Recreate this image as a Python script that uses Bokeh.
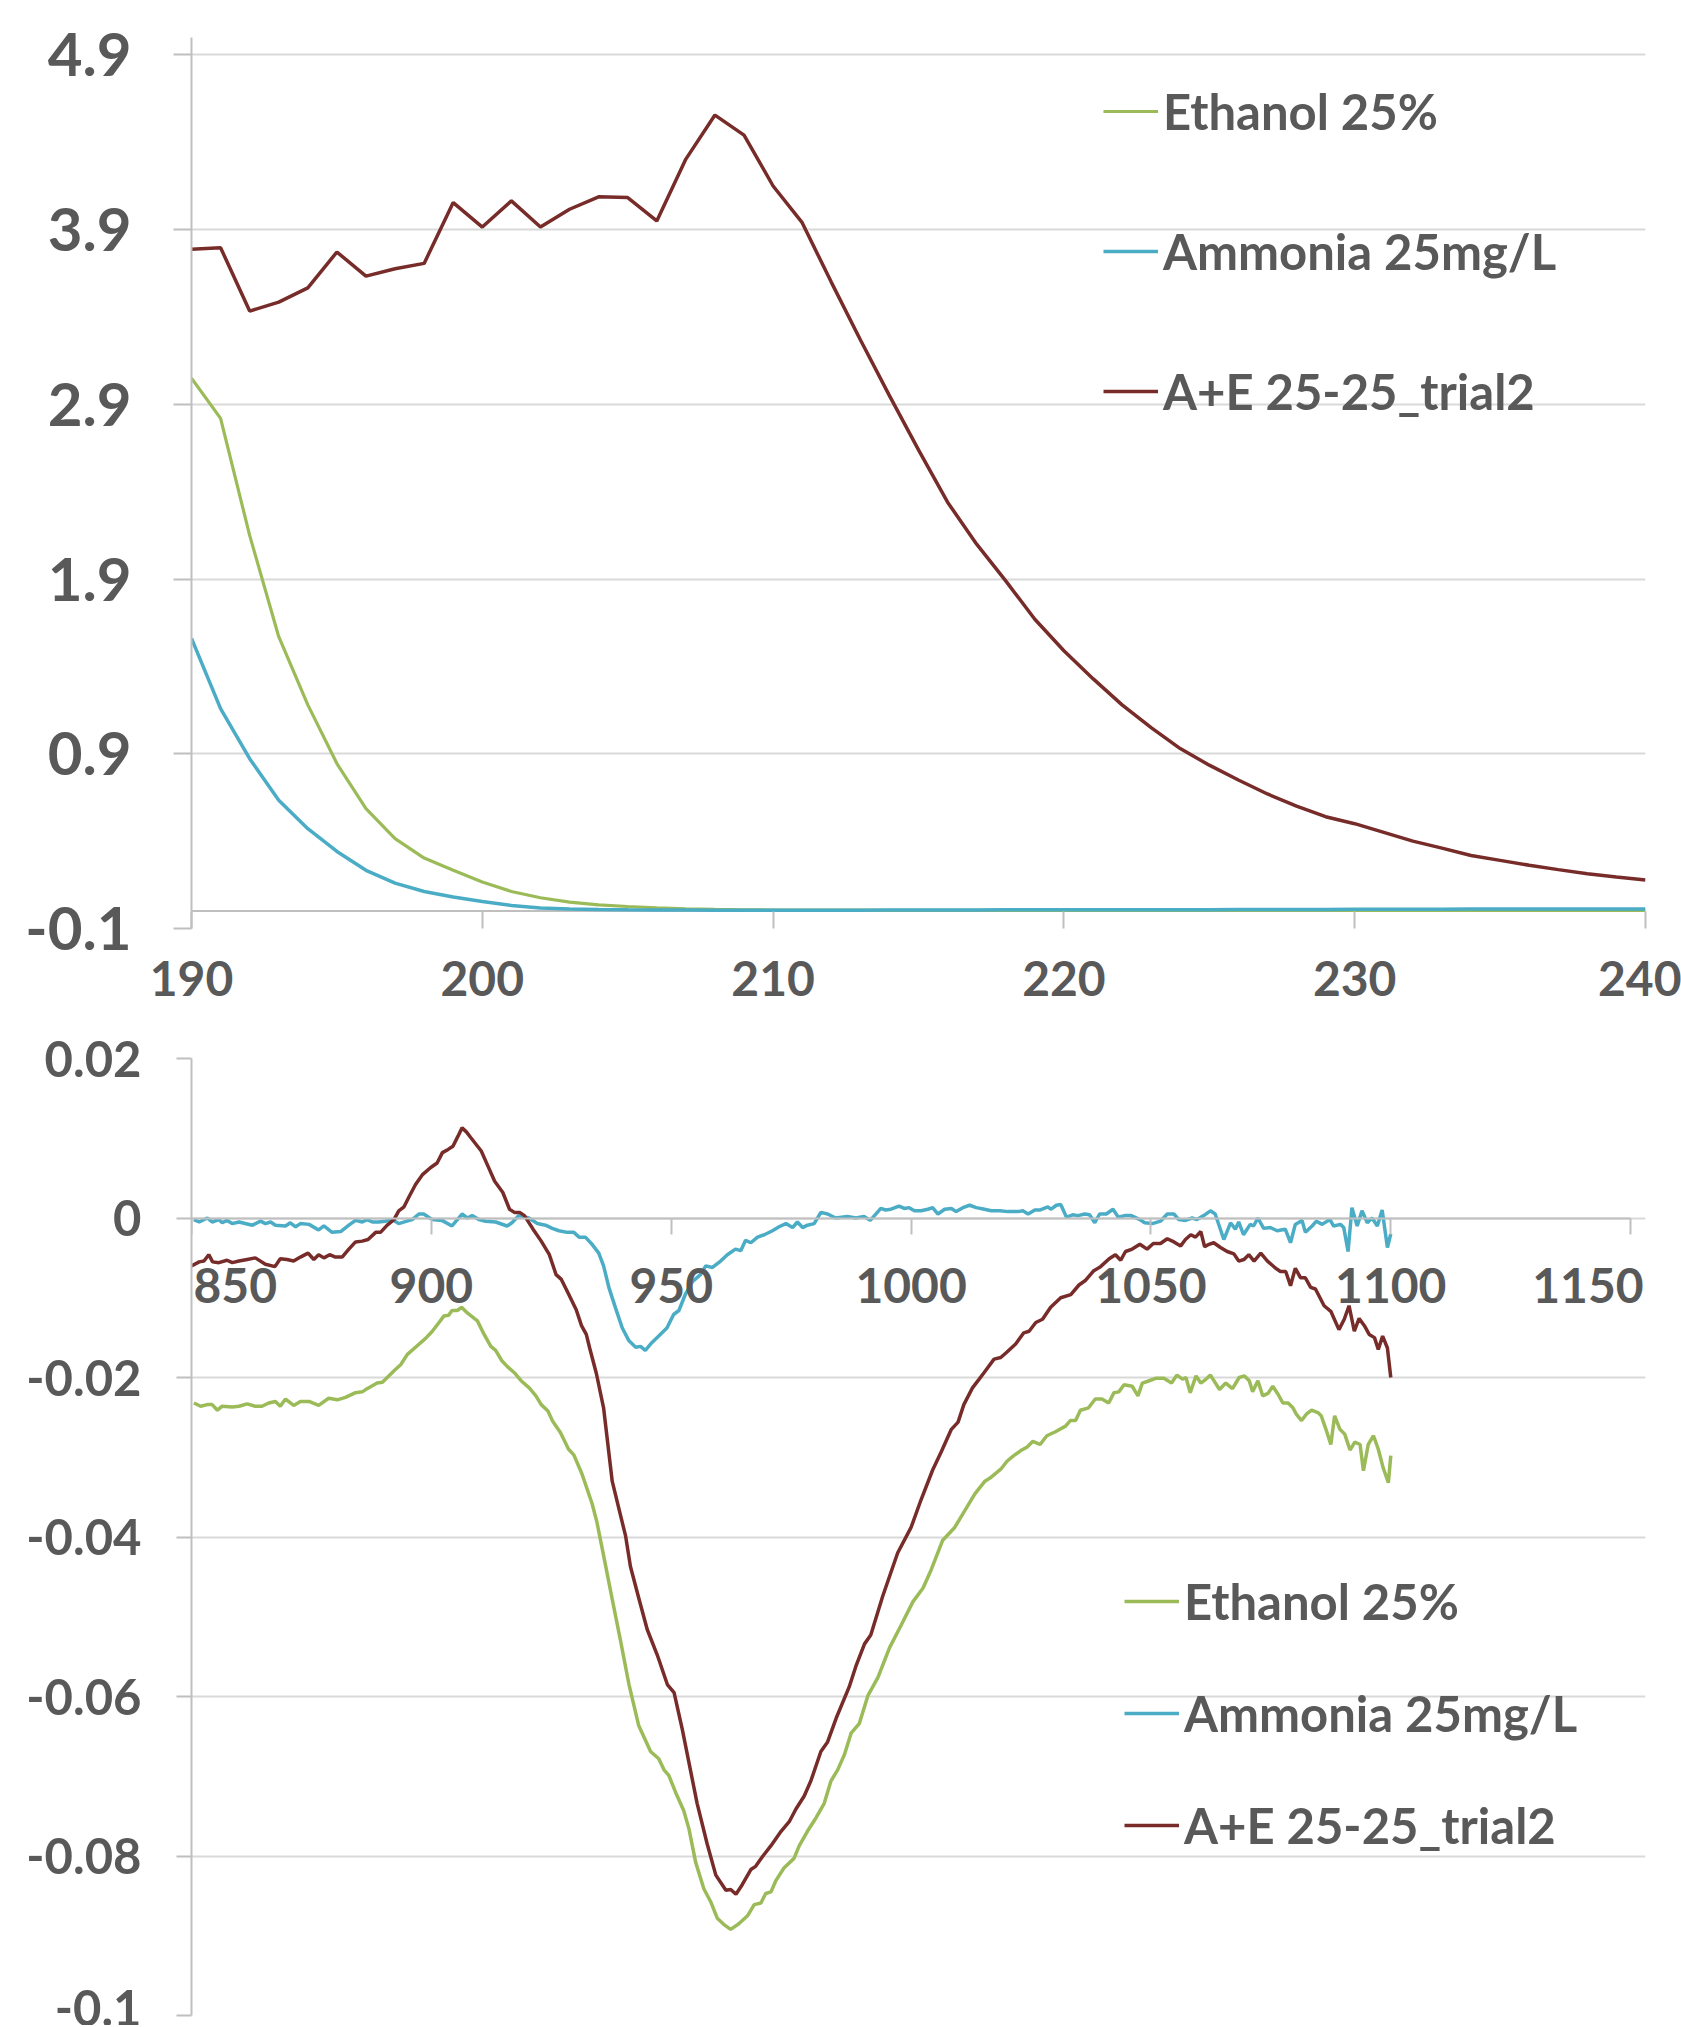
from bokeh.plotting import figure
from bokeh.layouts import column
from bokeh.models import Span, FixedTicker, Legend, LegendItem, Label
from bokeh.embed import file_html
from bokeh.resources import INLINE

# ---------------- names / colours ----------------
series_names = ["Ethanol 25%", "Ammonia 25mg/L", "A+E 25-25_trial2"]
GREEN, BLUE, MAROON = "#9BBB59", "#4BACC6", "#772C2A"
TEXT, GRID, AXIS = "#595959", "#D9D9D9", "#BFBFBF"
FONT = "Lato"

# ---------------- top chart data (190-240 nm) ----------------
uv_wavelength = [190, 191, 192, 193, 194, 195, 196, 197, 198, 199,
                 200, 201, 202, 203, 204, 205, 206, 207, 208, 209,
                 210, 211, 212, 213, 214, 215, 216, 217, 218, 219,
                 220, 221, 222, 223, 224, 225, 226, 227, 228, 229,
                 230, 231, 232, 233, 234, 235, 236, 237, 238, 239, 240]
uv_ethanol = [3.05, 2.82, 2.15, 1.57, 1.18, 0.844, 0.586, 0.414, 0.303, 0.233,
              0.166, 0.112, 0.076, 0.051, 0.035, 0.026, 0.018, 0.013, 0.009, 0.007,
              0.006, 0.005, 0.005, 0.005, 0.004, 0.004, 0.004, 0.004, 0.004, 0.004,
              0.004, 0.004, 0.004, 0.003, 0.003, 0.003, 0.003, 0.003, 0.003, 0.003,
              0.003, 0.003, 0.003, 0.003, 0.003, 0.003, 0.003, 0.003, 0.003, 0.003, 0.003]
uv_ammonia = [1.561, 1.159, 0.872, 0.634, 0.471, 0.341, 0.233, 0.160, 0.112, 0.080,
              0.055, 0.032, 0.018, 0.012, 0.009, 0.007, 0.006, 0.006, 0.005, 0.005,
              0.005, 0.005, 0.005, 0.005, 0.006, 0.006, 0.006, 0.006, 0.007, 0.007,
              0.007, 0.007, 0.008, 0.008, 0.008, 0.008, 0.009, 0.009, 0.009, 0.009,
              0.010, 0.010, 0.010, 0.010, 0.011, 0.011, 0.011, 0.011, 0.012, 0.012, 0.012]
uv_ae = [3.788, 3.797, 3.434, 3.485, 3.567, 3.772, 3.634, 3.676, 3.707, 4.055,
         3.915, 4.065, 3.915, 4.017, 4.088, 4.084, 3.950, 4.304, 4.556, 4.441,
         4.150, 3.940, 3.600, 3.270, 2.950, 2.640, 2.340, 2.100, 1.890, 1.670,
         1.490, 1.330, 1.180, 1.050, 0.930, 0.835, 0.750, 0.670, 0.600, 0.540,
         0.500, 0.450, 0.400, 0.360, 0.318, 0.290, 0.262, 0.237, 0.214, 0.195, 0.178]

uv_yticks = [-0.1, 0.9, 1.9, 2.9, 3.9, 4.9]
uv_ytick_labels = ["-0.1", "0.9", "1.9", "2.9", "3.9", "4.9"]
uv_xticks = [190, 200, 210, 220, 230, 240]
uv_xtick_labels = ["190", "200", "210", "220", "230", "240"]

# ---------------- bottom chart data (850-1100 nm), (wavelength, value) ----------------
nir_ethanol = [
    (850.5, -0.0232), (851.9, -0.0236), (853.3, -0.0234), (854.3, -0.0234), (855.4, -0.0241),
    (856.4, -0.0236), (858.5, -0.0237), (859.9, -0.0236), (861.6, -0.0233), (863.3, -0.0236),
    (864.7, -0.0236), (866.1, -0.0232), (867.5, -0.0230), (868.5, -0.0236), (869.6, -0.0227),
    (871.3, -0.0235), (872.7, -0.0230), (874.5, -0.0230), (876.5, -0.0235), (878.6, -0.0226),
    (880.4, -0.0228), (882.1, -0.0225), (884.2, -0.0219), (885.6, -0.0218), (886.6, -0.0214),
    (888.7, -0.0207), (889.8, -0.0206), (890.8, -0.0200), (892.5, -0.0190), (893.6, -0.0184),
    (895.0, -0.0171), (896.7, -0.0162), (898.8, -0.0151), (900.2, -0.0142), (901.6, -0.0131),
    (902.6, -0.0123), (903.6, -0.0122), (904.3, -0.0116), (905.4, -0.0116), (906.3, -0.0112),
    (907.5, -0.0119), (909.6, -0.0129), (911.0, -0.0146), (912.4, -0.0161), (913.4, -0.0166),
    (914.7, -0.0179), (915.8, -0.0186), (917.3, -0.0194), (918.7, -0.0204), (920.4, -0.0213),
    (921.8, -0.0223), (922.9, -0.0234), (924.3, -0.0242), (925.3, -0.0255), (926.9, -0.0269),
    (928.6, -0.0290), (929.7, -0.0297), (931.4, -0.0321), (933.5, -0.0358), (934.5, -0.0381),
    (935.9, -0.0423), (937.7, -0.0478), (939.4, -0.0529), (941.2, -0.0585), (943.2, -0.0636),
    (945.7, -0.0669), (947.4, -0.0678), (948.5, -0.0692), (949.5, -0.0699), (950.9, -0.0720),
    (952.6, -0.0743), (953.7, -0.0766), (955.1, -0.0808), (956.8, -0.0841), (958.2, -0.0857),
    (959.6, -0.0878), (961.0, -0.0886), (962.4, -0.0892), (964.1, -0.0885), (965.9, -0.0875),
    (967.3, -0.0861), (968.7, -0.0859), (969.7, -0.0847), (970.8, -0.0845), (971.8, -0.0831),
    (973.5, -0.0815), (975.6, -0.0803), (976.7, -0.0787), (978.4, -0.0769), (980.2, -0.0752),
    (981.9, -0.0734), (983.3, -0.0706), (984.7, -0.0692), (986.1, -0.0673), (987.5, -0.0646),
    (989.2, -0.0634), (991.0, -0.0599), (993.1, -0.0576), (995.5, -0.0539), (997.9, -0.0511),
    (1000.4, -0.0481), (1002.5, -0.0464), (1004.2, -0.0441), (1006.6, -0.0404), (1009.1, -0.0388),
    (1011.2, -0.0367), (1013.3, -0.0346), (1015.4, -0.0330), (1016.7, -0.0325), (1018.7, -0.0315),
    (1020.0, -0.0305), (1021.4, -0.0298), (1022.8, -0.0292), (1024.2, -0.0287), (1025.4, -0.0280),
    (1026.9, -0.0284), (1028.3, -0.0273), (1030.1, -0.0268), (1032.2, -0.0261), (1033.2, -0.0254),
    (1034.3, -0.0254), (1035.3, -0.0241), (1037.0, -0.0238), (1038.4, -0.0227), (1039.8, -0.0227),
    (1041.2, -0.0232), (1042.3, -0.0219), (1043.3, -0.0218), (1044.4, -0.0209), (1046.1, -0.0211),
    (1047.3, -0.0223), (1048.2, -0.0207), (1049.2, -0.0205), (1051.0, -0.0201), (1052.7, -0.0201),
    (1054.3, -0.0207), (1055.4, -0.0197), (1056.6, -0.0202), (1057.3, -0.0200), (1058.2, -0.0219),
    (1059.4, -0.0198), (1060.4, -0.0207), (1061.1, -0.0204), (1062.4, -0.0197), (1064.3, -0.0215),
    (1065.6, -0.0207), (1067.0, -0.0214), (1068.4, -0.0200), (1069.5, -0.0198), (1070.5, -0.0204),
    (1071.2, -0.0218), (1072.3, -0.0204), (1073.3, -0.0223), (1074.4, -0.0220), (1075.4, -0.0211),
    (1076.5, -0.0221), (1077.5, -0.0232), (1078.6, -0.0232), (1079.6, -0.0238), (1080.3, -0.0246),
    (1081.4, -0.0254), (1082.4, -0.0246), (1083.5, -0.0241), (1084.8, -0.0244), (1085.5, -0.0248),
    (1086.6, -0.0267), (1087.5, -0.0284), (1088.3, -0.0248), (1089.4, -0.0265), (1090.4, -0.0271),
    (1091.5, -0.0291), (1092.5, -0.0281), (1093.6, -0.0284), (1094.3, -0.0317), (1095.3, -0.0284),
    (1096.4, -0.0273), (1097.4, -0.0290), (1098.4, -0.0313), (1099.5, -0.0332), (1100.0, -0.0298),
]

nir_ammonia = [
    (850.5, -0.0002), (851.6, -0.0005), (853.3, 0.0000), (854.3, -0.0005), (855.7, -0.0002),
    (856.4, -0.0006), (857.4, -0.0003), (858.5, -0.0007), (859.9, -0.0005), (862.7, -0.0009),
    (864.4, -0.0004), (865.4, -0.0007), (866.5, -0.0005), (867.5, -0.0009), (869.6, -0.0010),
    (870.6, -0.0006), (871.7, -0.0011), (872.7, -0.0007), (874.5, -0.0008), (876.5, -0.0015),
    (877.6, -0.0010), (879.3, -0.0018), (881.1, -0.0017), (882.8, -0.0009), (884.2, -0.0003),
    (885.6, -0.0005), (886.6, -0.0002), (887.7, -0.0005), (889.0, -0.0005), (890.4, -0.0004),
    (891.8, -0.0002), (893.2, -0.0007), (894.9, -0.0004), (896.0, -0.0002), (897.4, 0.0005),
    (898.4, 0.0005), (900.2, -0.0002), (902.2, -0.0003), (904.3, -0.0010), (906.4, 0.0005),
    (907.5, 0.0000), (908.5, 0.0003), (909.9, -0.0002), (911.3, -0.0004), (913.4, -0.0005),
    (915.8, -0.0010), (916.8, -0.0006), (918.2, 0.0003), (920.3, 0.0000), (922.1, -0.0007),
    (923.8, -0.0009), (925.2, -0.0013), (926.6, -0.0016), (928.3, -0.0018), (929.7, -0.0018),
    (930.8, -0.0024), (932.1, -0.0024), (933.5, -0.0033), (934.9, -0.0044), (935.9, -0.0060),
    (937.0, -0.0087), (938.4, -0.0113), (939.8, -0.0138), (941.2, -0.0154), (942.6, -0.0162),
    (943.6, -0.0161), (944.6, -0.0166), (946.0, -0.0156), (947.4, -0.0148), (949.1, -0.0138),
    (950.5, -0.0121), (951.6, -0.0116), (953.0, -0.0095), (954.4, -0.0080), (956.1, -0.0071),
    (957.2, -0.0060), (958.6, -0.0062), (960.3, -0.0054), (961.7, -0.0046), (963.4, -0.0039),
    (964.5, -0.0041), (965.5, -0.0028), (966.6, -0.0031), (968.0, -0.0024), (969.4, -0.0021),
    (971.1, -0.0016), (972.5, -0.0011), (973.9, -0.0007), (975.3, -0.0012), (976.3, -0.0005),
    (977.4, -0.0012), (978.4, -0.0009), (979.8, -0.0007), (981.2, 0.0007), (982.6, 0.0005),
    (984.3, 0.0000), (986.7, 0.0002), (988.5, 0.0000), (990.2, 0.0002), (991.5, -0.0003),
    (993.7, 0.0012), (994.7, 0.0010), (995.8, 0.0011), (997.5, 0.0015), (998.6, 0.0012),
    (999.6, 0.0013), (1000.7, 0.0009), (1002.1, 0.0009), (1003.5, 0.0011), (1004.5, 0.0013),
    (1005.6, 0.0005), (1007.0, 0.0011), (1008.4, 0.0012), (1009.4, 0.0008), (1010.8, 0.0013),
    (1012.2, 0.0016), (1013.6, 0.0013), (1015.3, 0.0011), (1016.7, 0.0009), (1018.5, 0.0009),
    (1020.2, 0.0008), (1022.3, 0.0008), (1023.3, 0.0009), (1024.4, 0.0005), (1025.8, 0.0010),
    (1026.8, 0.0010), (1028.5, 0.0014), (1029.2, 0.0011), (1030.3, 0.0016), (1031.2, 0.0017),
    (1032.4, 0.0001), (1033.7, 0.0004), (1034.8, 0.0003), (1036.2, 0.0005), (1037.2, 0.0004),
    (1038.3, -0.0006), (1039.3, 0.0005), (1040.7, 0.0005), (1042.1, 0.0011), (1043.2, 0.0001),
    (1044.5, 0.0003), (1045.9, 0.0003), (1047.7, -0.0002), (1048.7, -0.0006), (1050.3, -0.0007),
    (1052.0, -0.0004), (1053.4, 0.0005), (1054.8, 0.0005), (1055.8, -0.0002), (1057.2, -0.0003),
    (1058.6, 0.0000), (1059.6, -0.0002), (1061.0, 0.0003), (1062.4, 0.0009), (1063.4, 0.0005),
    (1065.2, -0.0027), (1066.6, -0.0006), (1067.6, -0.0014), (1068.3, -0.0005), (1069.3, -0.0021),
    (1070.7, -0.0008), (1071.4, -0.0010), (1072.3, 0.0000), (1073.5, -0.0013), (1074.9, -0.0012),
    (1076.3, -0.0016), (1078.0, -0.0014), (1079.1, -0.0031), (1080.1, -0.0008), (1081.5, -0.0003),
    (1082.2, -0.0018), (1083.6, -0.0010), (1084.5, -0.0004), (1085.7, -0.0008), (1087.3, -0.0002),
    (1088.1, -0.0010), (1089.5, -0.0008), (1090.2, -0.0012), (1091.1, -0.0042), (1091.9, 0.0013),
    (1093.0, -0.0010), (1094.0, 0.0009), (1095.1, -0.0006), (1096.1, 0.0000), (1097.2, -0.0010),
    (1098.2, 0.0010), (1099.3, -0.0037), (1100.0, -0.0020),
]

nir_ae = [
    (850.0, -0.0060), (851.6, -0.0055), (852.6, -0.0054), (853.6, -0.0046), (854.4, -0.0055),
    (855.7, -0.0056), (857.4, -0.0053), (858.5, -0.0056), (859.9, -0.0054), (861.6, -0.0052),
    (863.3, -0.0050), (865.4, -0.0058), (867.4, -0.0061), (868.5, -0.0051), (869.9, -0.0052),
    (871.3, -0.0054), (872.7, -0.0049), (874.3, -0.0044), (875.5, -0.0052), (876.5, -0.0046),
    (877.6, -0.0050), (878.8, -0.0046), (880.0, -0.0049), (881.4, -0.0049), (882.8, -0.0039),
    (884.2, -0.0030), (885.6, -0.0029), (886.8, -0.0027), (888.4, -0.0018), (889.4, -0.0018),
    (890.8, -0.0009), (892.2, -0.0002), (893.2, 0.0009), (894.3, 0.0014), (895.3, 0.0026),
    (896.7, 0.0042), (898.1, 0.0054), (899.8, 0.0063), (901.2, 0.0069), (902.3, 0.0082),
    (903.5, 0.0086), (904.5, 0.0090), (905.5, 0.0102), (906.4, 0.0113), (907.3, 0.0108),
    (908.2, 0.0101), (910.4, 0.0084), (911.8, 0.0065), (913.2, 0.0046), (914.9, 0.0032),
    (916.3, 0.0011), (917.3, 0.0007), (918.4, 0.0007), (919.4, 0.0003), (921.2, -0.0014),
    (922.9, -0.0029), (924.6, -0.0046), (926.0, -0.0071), (927.1, -0.0077), (928.5, -0.0094),
    (930.2, -0.0115), (931.3, -0.0135), (932.3, -0.0146), (933.0, -0.0163), (934.4, -0.0195),
    (935.9, -0.0238), (937.7, -0.0330), (939.4, -0.0372), (940.5, -0.0399), (941.5, -0.0437),
    (943.3, -0.0478), (945.0, -0.0516), (947.1, -0.0548), (949.2, -0.0585), (950.6, -0.0595),
    (952.3, -0.0641), (954.0, -0.0692), (955.4, -0.0734), (957.5, -0.0785), (959.3, -0.0824),
    (961.4, -0.0843), (962.4, -0.0842), (963.5, -0.0848), (964.8, -0.0836), (966.6, -0.0817),
    (967.6, -0.0813), (969.0, -0.0801), (970.8, -0.0787), (972.9, -0.0769), (974.6, -0.0757),
    (976.0, -0.0741), (977.7, -0.0725), (979.1, -0.0706), (981.2, -0.0669), (982.6, -0.0657),
    (984.4, -0.0627), (987.1, -0.0588), (988.5, -0.0562), (990.3, -0.0534), (991.6, -0.0523),
    (994.1, -0.0474), (997.2, -0.0420), (1000.0, -0.0388), (1002.1, -0.0353), (1004.5, -0.0316),
    (1006.3, -0.0293), (1008.4, -0.0265), (1009.8, -0.0256), (1011.0, -0.0234), (1012.8, -0.0213),
    (1014.2, -0.0202), (1015.2, -0.0194), (1017.3, -0.0177), (1018.7, -0.0175), (1020.0, -0.0168),
    (1021.8, -0.0158), (1023.5, -0.0144), (1024.6, -0.0142), (1026.0, -0.0131), (1027.4, -0.0127),
    (1029.1, -0.0112), (1031.2, -0.0100), (1033.3, -0.0096), (1035.0, -0.0084), (1036.4, -0.0078),
    (1038.1, -0.0066), (1039.5, -0.0061), (1041.3, -0.0051), (1042.6, -0.0046), (1043.7, -0.0053),
    (1044.7, -0.0042), (1046.1, -0.0039), (1047.7, -0.0033), (1049.2, -0.0039), (1050.5, -0.0032),
    (1052.0, -0.0032), (1053.4, -0.0026), (1054.8, -0.0030), (1056.2, -0.0035), (1057.2, -0.0027),
    (1058.3, -0.0021), (1059.3, -0.0024), (1060.4, -0.0017), (1061.2, -0.0036), (1062.1, -0.0033),
    (1063.1, -0.0031), (1064.5, -0.0037), (1065.9, -0.0042), (1067.3, -0.0045), (1068.3, -0.0054),
    (1069.4, -0.0052), (1070.4, -0.0046), (1071.5, -0.0054), (1072.9, -0.0044), (1074.3, -0.0054),
    (1076.0, -0.0063), (1077.0, -0.0067), (1078.1, -0.0067), (1079.1, -0.0085), (1080.1, -0.0063),
    (1081.2, -0.0075), (1082.2, -0.0075), (1083.3, -0.0087), (1084.3, -0.0089), (1086.1, -0.0110),
    (1087.5, -0.0117), (1089.2, -0.0140), (1090.3, -0.0127), (1091.3, -0.0110), (1092.4, -0.0142),
    (1093.4, -0.0126), (1094.5, -0.0135), (1095.5, -0.0146), (1096.6, -0.0150), (1097.4, -0.0165),
    (1098.3, -0.0148), (1099.3, -0.0163), (1100.0, -0.0200),
]

nir_yticks = [-0.1, -0.08, -0.06, -0.04, -0.02, 0, 0.02]
nir_ytick_labels = ["-0.1", "-0.08", "-0.06", "-0.04", "-0.02", "0", "0.02"]
nir_xticks = [850, 900, 950, 1000, 1050, 1100, 1150]
nir_xtick_labels = ["850", "900", "950", "1000", "1050", "1100", "1150"]


def style_axis(ax, ticks, labels, size, tick_out, tick_in, standoff, line_color):
    ax.ticker = FixedTicker(ticks=ticks)
    ax.major_label_overrides = dict(zip(ticks, labels))
    ax.axis_line_color = line_color
    ax.axis_line_width = 2
    ax.major_tick_line_color = AXIS
    ax.major_tick_line_width = 2
    ax.major_tick_out = tick_out
    ax.major_tick_in = tick_in
    ax.minor_tick_line_color = None
    ax.major_label_standoff = standoff
    ax.major_label_text_font = FONT
    ax.major_label_text_font_style = "bold"
    ax.major_label_text_font_size = size
    ax.major_label_text_color = TEXT


def style_grid(p, ticks):
    p.ygrid[0].ticker = FixedTicker(ticks=ticks)
    p.ygrid[0].grid_line_color = GRID
    p.ygrid[0].grid_line_width = 2
    p.xgrid[0].visible = False


def make_legend(renderers, x, y, spacing):
    items = [LegendItem(label=n, renderers=[r]) for n, r in zip(series_names, renderers)]
    lg = Legend(items=items, location=(x, y), orientation="vertical",
                glyph_width=55, glyph_height=60, label_height=60, label_width=10,
                spacing=spacing, padding=0, margin=0, label_standoff=5,
                border_line_color=None, background_fill_alpha=0)
    lg.label_text_font = FONT
    lg.label_text_font_style = "bold"
    lg.label_text_font_size = "49px"
    lg.label_text_color = TEXT
    return lg


# ---------------- top figure ----------------
p1 = figure(width=1681, height=1018, x_range=(190, 240), y_range=(-0.1, 5.0),
            output_backend="svg", toolbar_location=None, title=None,
            min_border_left=191, min_border_right=36, min_border_top=37, min_border_bottom=90)
p1.outline_line_color = None
style_axis(p1.yaxis[0], uv_yticks, uv_ytick_labels, "60px", 18, 0, 42, AXIS)
style_grid(p1, uv_yticks)
style_axis(p1.xaxis[0], uv_xticks, uv_xtick_labels, "48px", 0, 17, 32, None)

p1.add_layout(Span(location=0, dimension="width", line_color=AXIS, line_width=2, level="underlay"))

t1 = p1.line(uv_wavelength, uv_ethanol, line_color=GREEN, line_width=3.2)
t2 = p1.line(uv_wavelength, uv_ammonia, line_color=BLUE, line_width=3.5)
t3 = p1.line(uv_wavelength, uv_ae, line_color=MAROON, line_width=3.5)
p1.add_layout(make_legend([t1, t2, t3], 912, 507, 80))

# ---------------- bottom figure ----------------
# frames of a column share their right edge, so the x range runs a little past 1150
p2 = figure(width=1681, height=1007, x_range=(850, 1153.1), y_range=(-0.1, 0.02),
            output_backend="svg", toolbar_location=None, title=None,
            min_border_left=191, min_border_right=36, min_border_top=40, min_border_bottom=10)
p2.outline_line_color = None
style_axis(p2.yaxis[0], nir_yticks, nir_ytick_labels, "49px", 15, 0, 35, AXIS)
style_grid(p2, nir_yticks)
xb = p2.xaxis[0]
xb.fixed_location = 0
style_axis(xb, nir_xticks, nir_xtick_labels, "48px", 16, 0, 34, AXIS)
xb.bounds = (nir_xticks[0], nir_xticks[-1])
xb.major_label_text_color = None

# axis labels sit on the zero line; the two end labels are anchored inward so the
# plot frame does not cut them
last = len(nir_xticks) - 1
for i, (xt, lab) in enumerate(zip(nir_xticks, nir_xtick_labels)):
    if i == 0:
        align, dx = "left", 2
    elif i == last:
        align, dx = "right", 13
    else:
        align, dx = "center", 0
    p2.add_layout(Label(x=xt, y=0, x_units="data", y_units="data", text=lab,
                        text_align=align, text_baseline="middle", x_offset=dx, y_offset=-67,
                        text_font=FONT, text_font_style="bold", text_font_size="48px",
                        text_color=TEXT))

b1 = p2.line([v[0] for v in nir_ethanol], [v[1] for v in nir_ethanol], line_color=GREEN, line_width=3.5)
b2 = p2.line([v[0] for v in nir_ammonia], [v[1] for v in nir_ammonia], line_color=BLUE, line_width=3.5)
b3 = p2.line([v[0] for v in nir_ae], [v[1] for v in nir_ae], line_color=MAROON, line_width=3.5)
p2.add_layout(make_legend([b1, b2, b3], 933, 160, 52))

layout = column(p1, p2)
open("out.html", "w").write(file_html(layout, INLINE))
